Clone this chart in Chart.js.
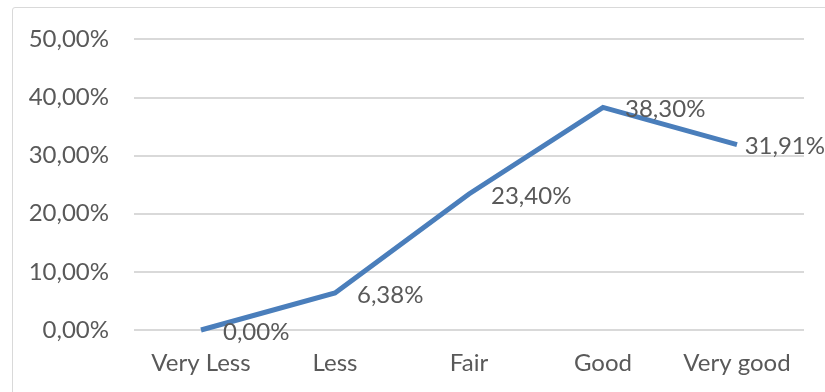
<!DOCTYPE html>
<html>
<head>
<meta charset="utf-8">
<script src="https://cdn.jsdelivr.net/npm/chart.js@4/dist/chart.umd.min.js"></script>
<style>
  html, body { margin: 0; padding: 0; background: #fff; }
  #wrap { position: relative; width: 825px; height: 392px; overflow: hidden; }
  #frame { position: absolute; left: 12px; top: 7px; width: 900px; height: 500px;
           border: 1px solid #d9d9d9; border-radius: 3px; }
  canvas { position: absolute; left: 0; top: 0; }
</style>
</head>
<body>
<div id="wrap">
  <div id="frame"></div>
  <canvas id="myChart" width="825" height="392"></canvas>
</div>
<script>
const categories = ['Very Less', 'Less', 'Fair', 'Good', 'Very good'];
const values = [0.00, 6.38, 23.40, 38.30, 31.91];
const yTicks = [0, 10, 20, 30, 40, 50];

const FONT = 'Lato, "Open Sans", sans-serif';
const TEXT = '#595959';
const SIZE = 24;

const fmt = v => v.toFixed(2).replace('.', ',') + '%';

// draws the value next to each point, kept inside the canvas
const valueLabels = {
    id: 'valueLabels',
    afterDatasetsDraw(chart) {
        const ctx = chart.ctx;
        const meta = chart.getDatasetMeta(0);
        ctx.save();
        ctx.font = SIZE + 'px ' + FONT;
        ctx.fillStyle = TEXT;
        ctx.textBaseline = 'middle';
        ctx.textAlign = 'left';
        meta.data.forEach((pt, i) => {
            const txt = fmt(values[i]);
            const w = ctx.measureText(txt).width;
            let x = pt.x + 22;
            if (x + w > chart.width) x = chart.width - w;
            ctx.fillText(txt, x, pt.y + 2);
        });
        ctx.restore();
    }
};

new Chart(document.getElementById('myChart'), {
    type: 'line',
    data: {
        labels: categories,
        datasets: [{
            data: values,
            borderColor: '#4a7ebb',
            borderWidth: 5,
            pointRadius: 0,
            tension: 0,
            fill: false,
            clip: false
        }]
    },
    options: {
        responsive: false,
        animation: false,
        plugins: { legend: { display: false }, tooltip: { enabled: false } },
        layout: { padding: { top: 37, right: 21, left: 0, bottom: 0 } },
        scales: {
            x: {
                offset: true,
                grid: { display: false },
                border: { display: false },
                ticks: { color: TEXT, font: { family: FONT, size: SIZE }, padding: 11, maxRotation: 0 },
                afterFit: s => { s.height = 62; }
            },
            y: {
                min: 0,
                max: 50,
                afterBuildTicks: s => { s.ticks = yTicks.map(v => ({ value: v })); },
                grid: { color: '#d9d9d9', lineWidth: 2, drawTicks: false },
                border: { display: false },
                ticks: {
                    color: TEXT,
                    font: { family: FONT, size: SIZE },
                    padding: 25,
                    callback: v => fmt(v)
                },
                afterFit: s => { s.width = 134; }
            }
        }
    },
    plugins: [valueLabels]
});
</script>
</body>
</html>
